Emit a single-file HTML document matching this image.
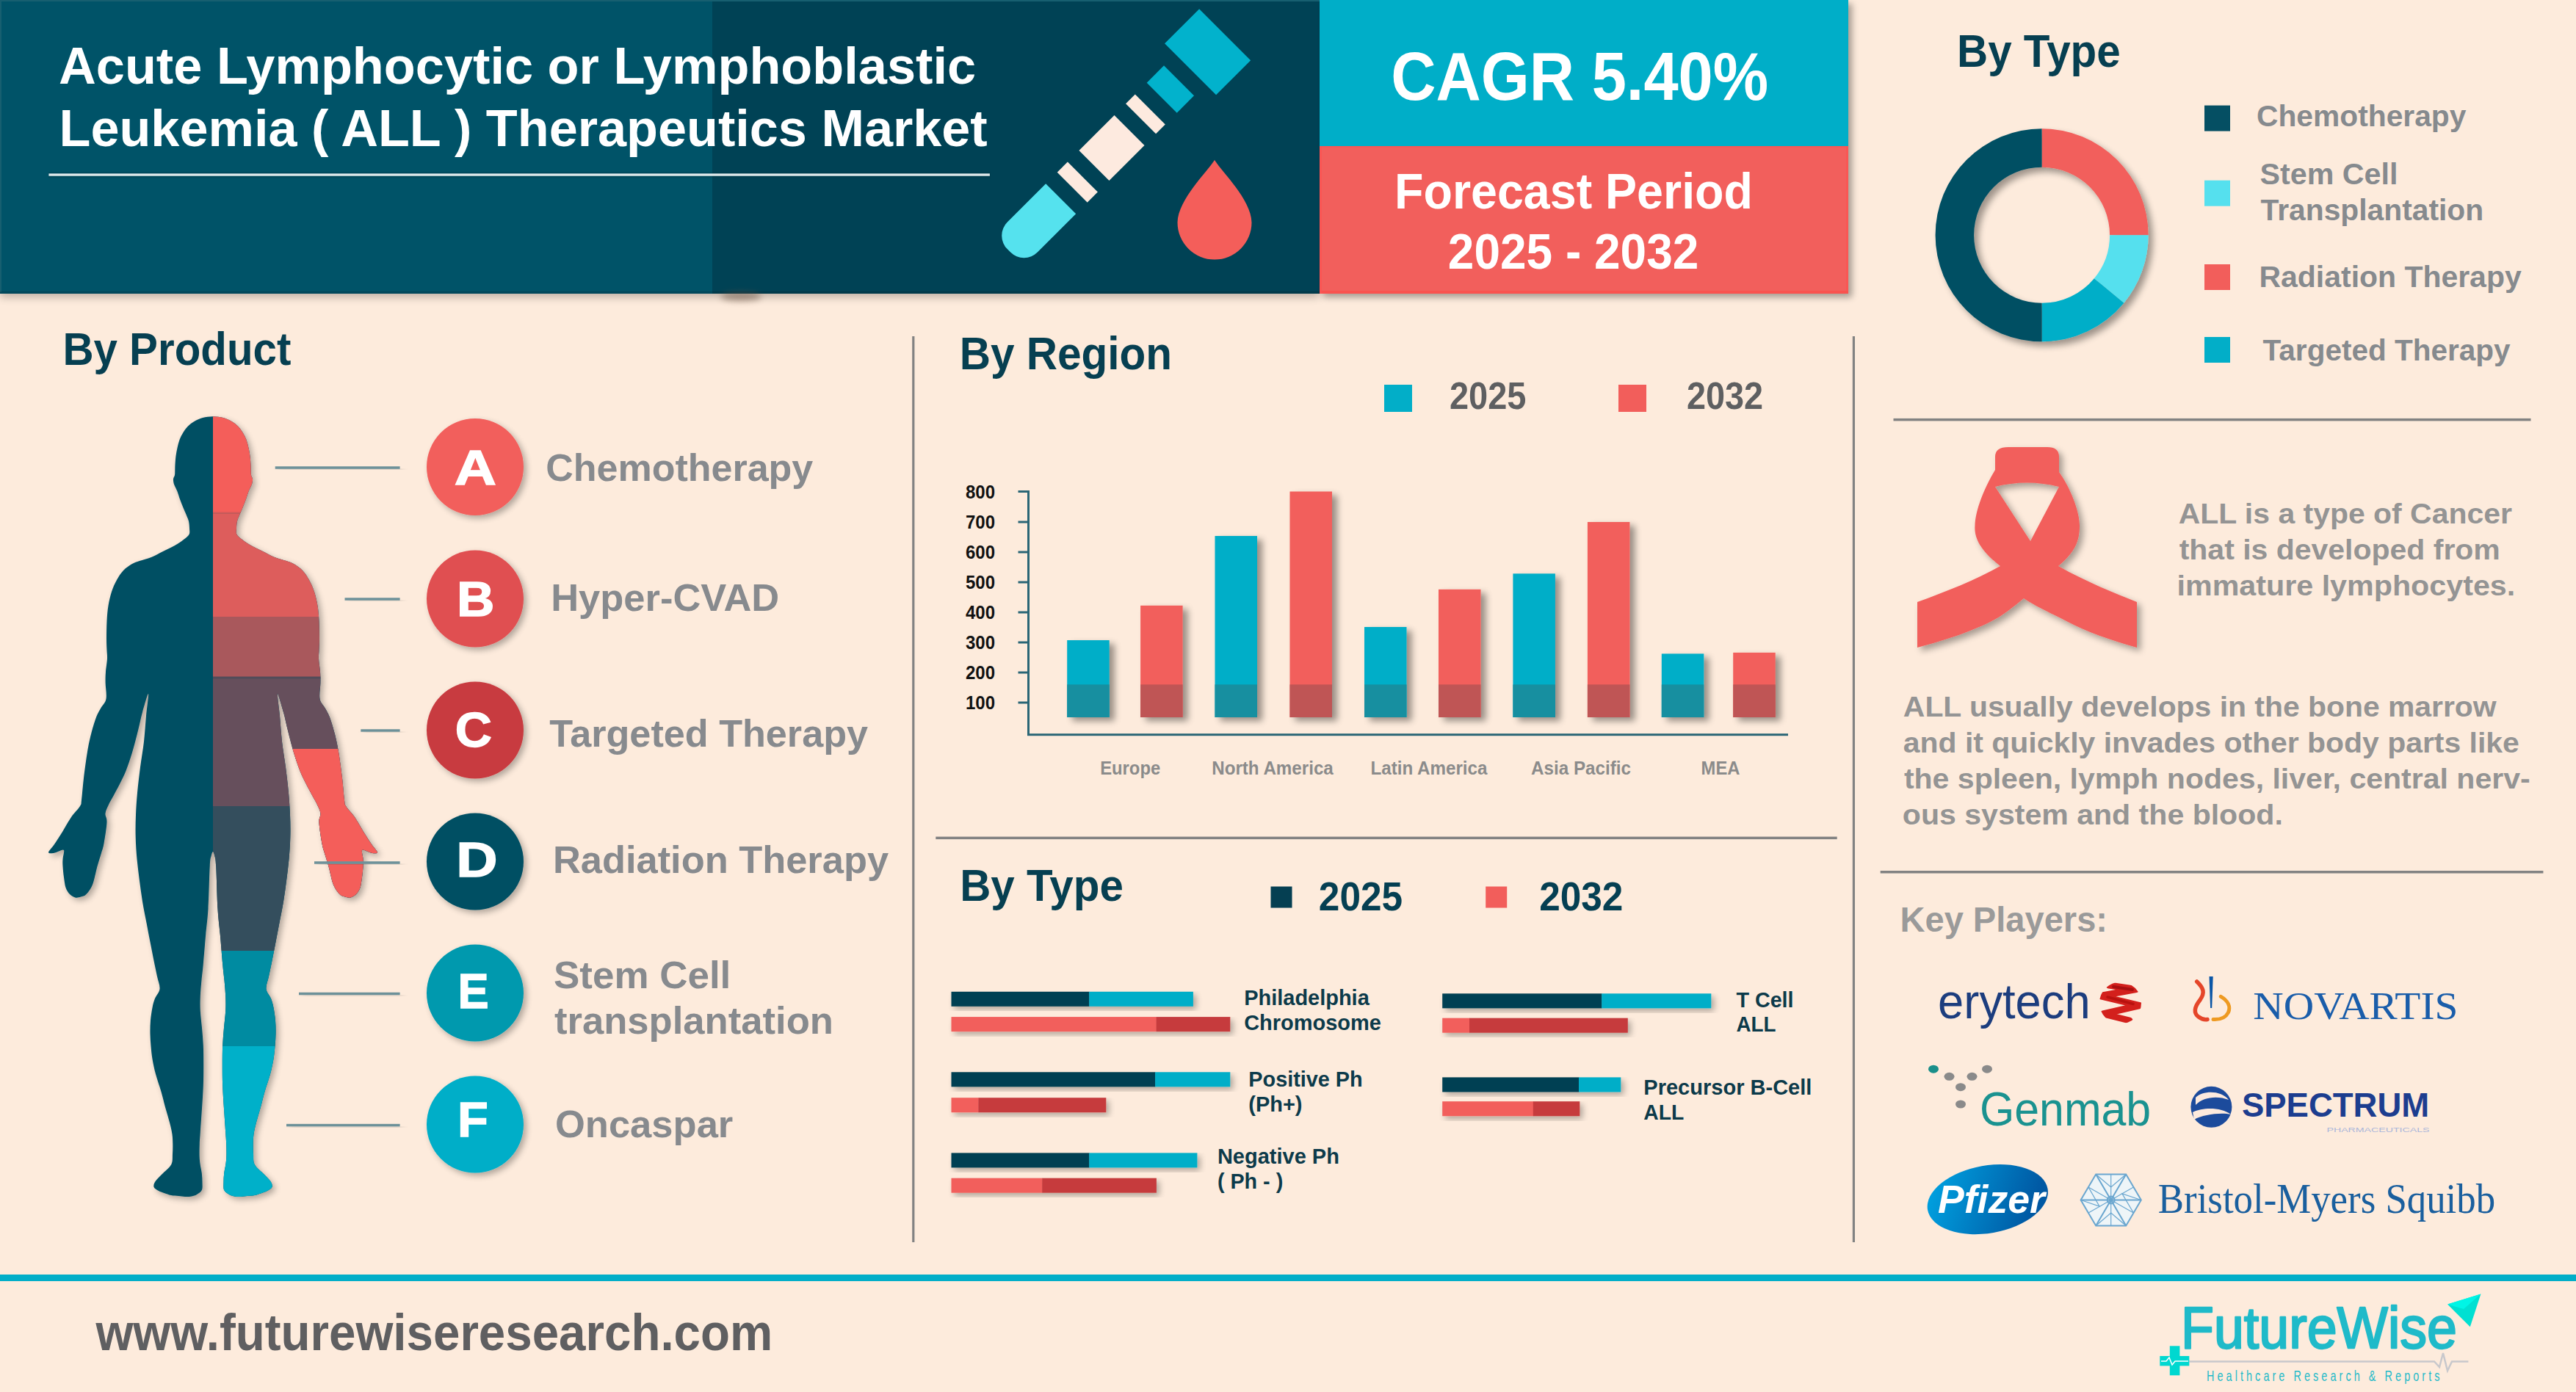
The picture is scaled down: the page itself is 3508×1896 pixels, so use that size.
<!DOCTYPE html>
<html><head><meta charset="utf-8"><title>ALL Therapeutics Market</title>
<style>html,body{margin:0;padding:0;background:#fdebdc;} svg{display:block;} text{font-family:'Liberation Sans',sans-serif;}</style>
</head><body>
<svg width="3508" height="1896" viewBox="0 0 3508 1896" style="font-family:'Liberation Sans',sans-serif">
<defs>
<filter id="sh" x="-20%" y="-20%" width="150%" height="150%"><feGaussianBlur in="SourceAlpha" stdDeviation="5"/><feOffset dx="5" dy="5"/><feComponentTransfer><feFuncA type="linear" slope="0.35"/></feComponentTransfer><feMerge><feMergeNode/><feMergeNode in="SourceGraphic"/></feMerge></filter>
<filter id="sh2" x="-20%" y="-20%" width="150%" height="150%"><feGaussianBlur in="SourceAlpha" stdDeviation="4"/><feOffset dx="4" dy="4"/><feComponentTransfer><feFuncA type="linear" slope="0.3"/></feComponentTransfer><feMerge><feMergeNode/><feMergeNode in="SourceGraphic"/></feMerge></filter>
<filter id="shH" x="-5%" y="-20%" width="110%" height="150%"><feGaussianBlur in="SourceAlpha" stdDeviation="6"/><feOffset dx="0" dy="5"/><feComponentTransfer><feFuncA type="linear" slope="0.25"/></feComponentTransfer><feMerge><feMergeNode/><feMergeNode in="SourceGraphic"/></feMerge></filter>
<filter id="shB" x="-30%" y="-10%" width="170%" height="130%"><feGaussianBlur in="SourceAlpha" stdDeviation="5"/><feOffset dx="7" dy="5"/><feComponentTransfer><feFuncA type="linear" slope="0.4"/></feComponentTransfer><feMerge><feMergeNode/><feMergeNode in="SourceGraphic"/></feMerge></filter>
<filter id="shD" x="-20%" y="-20%" width="150%" height="150%"><feGaussianBlur in="SourceAlpha" stdDeviation="5"/><feOffset dx="6" dy="6"/><feComponentTransfer><feFuncA type="linear" slope="0.38"/></feComponentTransfer><feMerge><feMergeNode/><feMergeNode in="SourceGraphic"/></feMerge></filter>
<clipPath id="ery"><circle cx="2887.5" cy="1366" r="28.5"/></clipPath>
<clipPath id="bodyclip"><path d="M290.0,567.2C285.3,567.2 280.2,567.9 276.0,569.0C271.8,570.1 267.8,572.1 264.5,574.0C261.2,575.9 258.5,578.0 256.0,580.5C253.5,583.0 251.4,585.9 249.5,589.0C247.6,592.1 245.8,595.5 244.5,599.0C243.2,602.5 242.3,606.3 241.5,610.0C240.7,613.7 240.0,617.2 239.5,621.0C239.0,624.8 238.7,629.7 238.5,633.0C238.3,636.3 238.4,638.7 238.3,641.0C238.2,643.3 238.4,645.1 238.0,647.0C237.6,648.9 236.2,650.5 236.0,652.5C235.8,654.5 236.3,657.1 236.8,659.0C237.3,660.9 238.2,662.2 239.0,664.0C239.8,665.8 240.5,666.8 241.5,669.5C242.5,672.2 243.7,676.3 245.0,680.0C246.3,683.7 248.0,687.8 249.5,691.5C251.0,695.2 252.8,698.9 254.0,702.0C255.2,705.1 256.3,707.0 257.0,710.0C257.7,713.0 257.9,717.0 258.0,720.0C258.1,723.0 258.8,725.5 257.5,728.0C256.2,730.5 253.2,732.5 250.0,735.0C246.8,737.5 242.7,740.3 238.0,743.0C233.3,745.7 227.3,748.3 222.0,751.0C216.7,753.7 211.3,756.8 206.0,759.0C200.7,761.2 194.3,762.5 190.0,764.0C185.7,765.5 183.7,765.8 180.0,768.0C176.3,770.2 171.5,773.3 168.0,777.0C164.5,780.7 161.7,785.2 159.0,790.0C156.3,794.8 153.9,800.2 152.0,806.0C150.1,811.8 148.6,818.3 147.5,825.0C146.4,831.7 145.9,838.5 145.5,846.0C145.1,853.5 145.0,863.3 145.0,870.0C145.0,876.7 145.3,881.5 145.5,886.0C145.7,890.5 146.2,892.2 146.0,897.0C145.8,901.8 144.4,909.5 144.0,915.0C143.6,920.5 143.5,923.8 143.6,930.0C143.7,936.2 145.6,946.2 144.5,952.0C143.4,957.8 139.2,960.8 137.0,965.0C134.8,969.2 133.2,971.2 131.0,977.0C128.8,982.8 126.0,992.2 124.0,1000.0C122.0,1007.8 120.7,1014.0 119.0,1024.0C117.3,1034.0 115.3,1049.0 114.0,1060.0C112.7,1071.0 111.8,1083.7 111.0,1090.0C110.2,1096.3 111.3,1094.2 109.0,1098.0C106.7,1101.8 101.0,1107.2 97.0,1113.0C93.0,1118.8 88.8,1126.8 85.0,1133.0C81.2,1139.2 77.2,1145.3 74.0,1150.0C70.8,1154.7 66.2,1159.0 66.0,1161.0C65.8,1163.0 70.7,1162.2 73.0,1162.0C75.3,1161.8 77.7,1160.2 80.0,1159.5C82.3,1158.8 86.1,1156.2 87.0,1158.0C87.9,1159.8 85.8,1166.3 85.5,1170.0C85.2,1173.7 85.2,1175.8 85.5,1180.0C85.8,1184.2 86.3,1190.2 87.0,1195.0C87.7,1199.8 88.2,1205.2 89.5,1209.0C90.8,1212.8 92.8,1215.8 95.0,1218.0C97.2,1220.2 100.0,1221.9 102.5,1222.5C105.0,1223.1 107.5,1222.2 110.0,1221.5C112.5,1220.8 114.8,1220.8 117.5,1218.0C120.2,1215.2 123.5,1211.3 126.0,1205.0C128.5,1198.7 130.5,1187.2 132.5,1180.0C134.5,1172.8 136.5,1167.2 138.0,1162.0C139.5,1156.8 140.2,1156.0 141.5,1149.0C142.8,1142.0 145.2,1126.8 145.5,1120.0C145.8,1113.2 143.1,1112.0 143.5,1108.0C143.9,1104.0 146.2,1100.0 148.0,1096.0C149.8,1092.0 152.0,1088.7 154.5,1084.0C157.0,1079.3 160.2,1073.7 163.0,1068.0C165.8,1062.3 168.7,1057.2 171.5,1050.0C174.3,1042.8 177.2,1034.2 180.0,1025.0C182.8,1015.8 185.7,1004.2 188.0,995.0C190.3,985.8 191.7,978.3 194.0,970.0C196.3,961.7 201.2,944.2 202.0,945.0C202.8,945.8 200.0,964.2 199.0,975.0C198.0,985.8 197.3,998.3 196.0,1010.0C194.7,1021.7 192.5,1033.3 191.0,1045.0C189.5,1056.7 188.0,1069.2 187.0,1080.0C186.0,1090.8 185.4,1100.0 185.0,1110.0C184.6,1120.0 184.4,1130.0 184.7,1140.0C184.9,1150.0 185.6,1160.2 186.5,1170.0C187.4,1179.8 188.7,1189.3 189.9,1199.0C191.2,1208.7 192.4,1218.2 194.0,1228.0C195.6,1237.8 197.9,1248.8 199.7,1258.0C201.4,1267.2 202.8,1274.5 204.5,1283.0C206.2,1291.5 208.0,1301.2 209.6,1309.0C211.2,1316.8 212.7,1323.7 214.0,1330.0C215.3,1336.3 218.0,1342.0 217.5,1347.0C217.0,1352.0 212.7,1355.8 211.0,1360.0C209.3,1364.2 208.6,1367.0 207.6,1372.0C206.6,1377.0 205.5,1384.0 205.0,1390.0C204.5,1396.0 204.4,1402.2 204.5,1408.0C204.6,1413.8 205.0,1419.2 205.5,1425.0C206.0,1430.8 206.5,1436.7 207.6,1443.0C208.7,1449.3 210.0,1455.7 212.0,1463.0C214.0,1470.3 217.3,1479.5 219.5,1487.0C221.7,1494.5 223.0,1500.8 225.0,1508.0C227.0,1515.2 229.7,1523.8 231.3,1530.0C232.9,1536.2 233.8,1540.3 234.5,1545.0C235.2,1549.7 235.2,1553.5 235.3,1558.0C235.4,1562.5 235.3,1567.3 235.0,1572.0C234.7,1576.7 235.5,1581.7 233.3,1586.0C231.1,1590.3 225.6,1594.2 222.0,1598.0C218.4,1601.8 213.7,1605.8 211.6,1609.0C209.5,1612.2 208.9,1614.8 209.6,1617.0C210.3,1619.2 213.7,1620.7 216.0,1622.0C218.3,1623.3 220.6,1624.0 223.4,1625.0C226.2,1626.0 229.7,1627.3 233.0,1628.0C236.3,1628.7 240.0,1628.7 243.2,1629.0C246.4,1629.3 249.0,1629.9 252.0,1630.0C255.0,1630.1 258.3,1630.0 261.0,1629.5C263.7,1629.0 265.7,1628.4 268.0,1627.0C270.3,1625.6 273.6,1623.8 274.8,1621.0C276.1,1618.2 275.5,1613.8 275.5,1610.0C275.5,1606.2 275.3,1602.2 274.8,1598.0C274.3,1593.8 273.0,1589.0 272.5,1585.0C272.0,1581.0 271.7,1578.5 271.6,1574.0C271.5,1569.5 271.6,1563.3 271.8,1558.0C272.0,1552.7 272.3,1550.0 272.8,1542.0C273.3,1534.0 274.3,1520.5 275.0,1510.0C275.7,1499.5 276.4,1489.0 276.8,1479.0C277.2,1469.0 277.2,1459.2 277.2,1450.0C277.2,1440.8 277.2,1432.3 276.8,1424.0C276.4,1415.7 275.7,1407.8 275.0,1400.0C274.3,1392.2 273.2,1384.2 272.8,1377.0C272.4,1369.8 272.5,1364.0 272.8,1357.0C273.1,1350.0 273.8,1342.3 274.5,1335.0C275.2,1327.7 275.9,1323.0 276.8,1313.0C277.7,1303.0 278.9,1287.5 280.0,1275.0C281.1,1262.5 282.5,1254.0 283.5,1238.0C284.5,1222.0 285.1,1191.0 285.8,1179.0C286.5,1167.0 286.9,1169.2 287.6,1166.0C288.3,1162.8 289.2,1160.0 290.0,1160.0C290.8,1160.0 291.7,1162.8 292.4,1166.0C293.1,1169.2 293.5,1167.0 294.2,1179.0C294.9,1191.0 295.5,1222.0 296.5,1238.0C297.5,1254.0 298.9,1262.5 300.0,1275.0C301.1,1287.5 302.3,1303.0 303.2,1313.0C304.1,1323.0 304.8,1327.7 305.5,1335.0C306.2,1342.3 306.9,1350.0 307.2,1357.0C307.5,1364.0 307.6,1369.8 307.2,1377.0C306.8,1384.2 305.7,1392.2 305.0,1400.0C304.3,1407.8 303.6,1415.7 303.2,1424.0C302.8,1432.3 302.8,1440.8 302.8,1450.0C302.8,1459.2 302.8,1469.0 303.2,1479.0C303.6,1489.0 304.3,1499.5 305.0,1510.0C305.7,1520.5 306.7,1534.0 307.2,1542.0C307.7,1550.0 308.0,1552.7 308.2,1558.0C308.4,1563.3 308.5,1569.5 308.4,1574.0C308.3,1578.5 308.0,1581.0 307.5,1585.0C307.0,1589.0 305.7,1593.8 305.2,1598.0C304.7,1602.2 304.5,1606.2 304.5,1610.0C304.5,1613.8 303.9,1618.2 305.2,1621.0C306.4,1623.8 309.7,1625.6 312.0,1627.0C314.3,1628.4 316.3,1629.0 319.0,1629.5C321.7,1630.0 325.0,1630.1 328.0,1630.0C331.0,1629.9 333.6,1629.3 336.8,1629.0C340.0,1628.7 343.7,1628.7 347.0,1628.0C350.3,1627.3 353.8,1626.0 356.6,1625.0C359.4,1624.0 361.7,1623.3 364.0,1622.0C366.3,1620.7 369.7,1619.2 370.4,1617.0C371.1,1614.8 370.5,1612.2 368.4,1609.0C366.3,1605.8 361.6,1601.8 358.0,1598.0C354.4,1594.2 348.9,1590.3 346.7,1586.0C344.5,1581.7 345.3,1576.7 345.0,1572.0C344.7,1567.3 344.6,1562.5 344.7,1558.0C344.8,1553.5 344.8,1549.7 345.5,1545.0C346.2,1540.3 347.1,1536.2 348.7,1530.0C350.3,1523.8 353.0,1515.2 355.0,1508.0C357.0,1500.8 358.3,1494.5 360.5,1487.0C362.7,1479.5 366.0,1470.3 368.0,1463.0C370.0,1455.7 371.3,1449.3 372.4,1443.0C373.5,1436.7 374.0,1430.8 374.5,1425.0C375.0,1419.2 375.4,1413.8 375.5,1408.0C375.6,1402.2 375.5,1396.0 375.0,1390.0C374.5,1384.0 373.4,1377.0 372.4,1372.0C371.4,1367.0 370.6,1364.2 369.0,1360.0C367.4,1355.8 363.0,1352.0 362.5,1347.0C362.0,1342.0 364.7,1336.3 366.0,1330.0C367.3,1323.7 368.8,1316.8 370.4,1309.0C372.0,1301.2 373.9,1291.5 375.5,1283.0C377.1,1274.5 378.6,1267.2 380.3,1258.0C382.1,1248.8 384.4,1237.8 386.0,1228.0C387.6,1218.2 388.9,1208.7 390.1,1199.0C391.4,1189.3 392.6,1179.8 393.5,1170.0C394.4,1160.2 395.1,1150.0 395.3,1140.0C395.6,1130.0 395.4,1120.0 395.0,1110.0C394.6,1100.0 394.0,1090.8 393.0,1080.0C392.0,1069.2 390.5,1056.7 389.0,1045.0C387.5,1033.3 385.3,1021.7 384.0,1010.0C382.7,998.3 382.0,985.8 381.0,975.0C380.0,964.2 377.2,945.8 378.0,945.0C378.8,944.2 383.7,961.7 386.0,970.0C388.3,978.3 389.7,985.8 392.0,995.0C394.3,1004.2 397.2,1015.8 400.0,1025.0C402.8,1034.2 405.7,1042.8 408.5,1050.0C411.3,1057.2 414.2,1062.3 417.0,1068.0C419.8,1073.7 423.0,1079.3 425.5,1084.0C428.0,1088.7 430.2,1092.0 432.0,1096.0C433.8,1100.0 436.1,1104.0 436.5,1108.0C436.9,1112.0 434.2,1113.2 434.5,1120.0C434.8,1126.8 437.2,1142.0 438.5,1149.0C439.8,1156.0 440.5,1156.8 442.0,1162.0C443.5,1167.2 445.5,1172.8 447.5,1180.0C449.5,1187.2 451.5,1198.7 454.0,1205.0C456.5,1211.3 459.8,1215.2 462.5,1218.0C465.2,1220.8 467.5,1220.8 470.0,1221.5C472.5,1222.2 475.0,1223.1 477.5,1222.5C480.0,1221.9 482.8,1220.2 485.0,1218.0C487.2,1215.8 489.2,1212.8 490.5,1209.0C491.8,1205.2 492.3,1199.8 493.0,1195.0C493.7,1190.2 494.2,1184.2 494.5,1180.0C494.8,1175.8 494.8,1173.7 494.5,1170.0C494.2,1166.3 492.1,1159.8 493.0,1158.0C493.9,1156.2 497.7,1158.8 500.0,1159.5C502.3,1160.2 504.7,1161.8 507.0,1162.0C509.3,1162.2 514.2,1163.0 514.0,1161.0C513.8,1159.0 509.2,1154.7 506.0,1150.0C502.8,1145.3 498.8,1139.2 495.0,1133.0C491.2,1126.8 487.0,1118.8 483.0,1113.0C479.0,1107.2 473.3,1101.8 471.0,1098.0C468.7,1094.2 469.8,1096.3 469.0,1090.0C468.2,1083.7 467.3,1071.0 466.0,1060.0C464.7,1049.0 462.7,1034.0 461.0,1024.0C459.3,1014.0 458.0,1007.8 456.0,1000.0C454.0,992.2 451.2,982.8 449.0,977.0C446.8,971.2 445.2,969.2 443.0,965.0C440.8,960.8 436.6,957.8 435.5,952.0C434.4,946.2 436.3,936.2 436.4,930.0C436.5,923.8 436.4,920.5 436.0,915.0C435.6,909.5 434.2,901.8 434.0,897.0C433.8,892.2 434.3,890.5 434.5,886.0C434.7,881.5 435.0,876.7 435.0,870.0C435.0,863.3 434.9,853.5 434.5,846.0C434.1,838.5 433.6,831.7 432.5,825.0C431.4,818.3 429.9,811.8 428.0,806.0C426.1,800.2 423.7,794.8 421.0,790.0C418.3,785.2 415.5,780.7 412.0,777.0C408.5,773.3 403.7,770.2 400.0,768.0C396.3,765.8 394.3,765.5 390.0,764.0C385.7,762.5 379.3,761.2 374.0,759.0C368.7,756.8 363.3,753.7 358.0,751.0C352.7,748.3 346.7,745.7 342.0,743.0C337.3,740.3 333.2,737.5 330.0,735.0C326.8,732.5 323.8,730.5 322.5,728.0C321.2,725.5 321.9,723.0 322.0,720.0C322.1,717.0 322.3,713.0 323.0,710.0C323.7,707.0 324.8,705.1 326.0,702.0C327.2,698.9 329.0,695.2 330.5,691.5C332.0,687.8 333.7,683.7 335.0,680.0C336.3,676.3 337.5,672.2 338.5,669.5C339.5,666.8 340.2,665.8 341.0,664.0C341.8,662.2 342.7,660.9 343.2,659.0C343.7,657.1 344.2,654.5 344.0,652.5C343.8,650.5 342.4,648.9 342.0,647.0C341.6,645.1 341.8,643.3 341.7,641.0C341.6,638.7 341.7,636.3 341.5,633.0C341.3,629.7 341.0,624.8 340.5,621.0C340.0,617.2 339.3,613.7 338.5,610.0C337.7,606.3 336.8,602.5 335.5,599.0C334.2,595.5 332.4,592.1 330.5,589.0C328.6,585.9 326.5,583.0 324.0,580.5C321.5,578.0 318.8,575.9 315.5,574.0C312.2,572.1 308.2,570.1 304.0,569.0C299.8,567.9 294.7,567.2 290.0,567.2Z"/></clipPath>
</defs>
<rect x="0" y="0" width="3508" height="1896" fill="#fdebdc"/>
<g filter="url(#shH)"><rect x="0" y="0" width="1797" height="400" fill="#034354"/><rect x="0" y="0" width="970" height="400" fill="#065367"/></g>
<rect x="0" y="0" width="1797" height="2" fill="#175f70"/><rect x="0" y="0" width="2" height="398" fill="#175f70"/>
<ellipse cx="1009" cy="404" rx="28" ry="6" fill="#6b5446" opacity="0.55" style="filter:blur(4px)"/>
<rect x="0" y="396.5" width="1797" height="3.5" fill="#000000" opacity="0.12"/>
<text x="80.02" y="114" font-size="71" fill="#ffffff" font-weight="bold" textLength="1249.09" lengthAdjust="spacingAndGlyphs" >Acute Lymphocytic or Lymphoblastic</text>
<text x="80.56" y="199" font-size="71" fill="#ffffff" font-weight="bold" textLength="1264.20" lengthAdjust="spacingAndGlyphs" >Leukemia ( ALL ) Therapeutics Market</text>
<rect x="66" y="234.3" width="1283" height="8" fill="#003646" opacity="0.3"/>
<rect x="66.4" y="236.4" width="1281.5" height="3.3" fill="#e2ebed"/>
<g transform="translate(1378.2,337.2) rotate(-45)">
<path d="M20,-29 L94,-29 L94,29 L20,29 A26,26 0 0 1 -6,3 L-6,-3 A26,26 0 0 1 20,-29 Z" fill="#55e2ee"/>
<rect x="116" y="-29" width="20" height="58" fill="#fdeadf"/>
<rect x="158" y="-29" width="68" height="58" fill="#fdeadf"/>
<rect x="248" y="-29" width="18" height="58" fill="#fdeadf"/>
<rect x="288.5" y="-29" width="33" height="58" fill="#02b2cc"/>
<rect x="343.5" y="-49.5" width="66.5" height="99" fill="#02b2cc"/>
</g>
<path d="M1654,218 C1664,234 1704,272 1704.5,303 A50.5,50.5 0 1 1 1603.5,303 C1604,272 1644,234 1654,218 Z" fill="#f45e5a"/>
<g filter="url(#sh)"><rect x="1797" y="0" width="720" height="199" fill="#02aec8"/><rect x="1797" y="199" width="720" height="201" fill="#f25e5b"/></g>
<rect x="1797" y="199" width="720" height="2" fill="#fb5654"/><rect x="2514" y="199" width="3" height="201" fill="#fa5654"/><rect x="1797" y="396" width="720" height="4" fill="#f9534f"/><rect x="1797" y="199" width="3" height="201" fill="#fa5654"/>
<text x="1894.35" y="135.7" font-size="93" fill="#ffffff" font-weight="bold" textLength="513.80" lengthAdjust="spacingAndGlyphs" >CAGR 5.40%</text>
<text x="1899.12" y="283.5" font-size="69" fill="#ffffff" font-weight="bold" textLength="487.80" lengthAdjust="spacingAndGlyphs" >Forecast Period</text>
<text x="1971.85" y="365.5" font-size="69" fill="#ffffff" font-weight="bold" textLength="341.51" lengthAdjust="spacingAndGlyphs" >2025 - 2032</text>
<text x="2664.99" y="90.6" font-size="63" fill="#063f51" font-weight="bold" textLength="222.74" lengthAdjust="spacingAndGlyphs" >By Type</text>
<g filter="url(#shD)">
<path d="M2780.60,175.20 A145,145 0 0 1 2925.60,320.20 L2873.10,320.20 A92.5,92.5 0 0 0 2780.60,227.70 Z" fill="#f25e5b"/>
<path d="M2925.60,320.20 A145,145 0 0 1 2892.32,412.63 L2851.87,379.16 A92.5,92.5 0 0 0 2873.10,320.20 Z" fill="#55e0ee"/>
<path d="M2892.32,412.63 A145,145 0 0 1 2780.60,465.20 L2780.60,412.70 A92.5,92.5 0 0 0 2851.87,379.16 Z" fill="#02aec8"/>
<path d="M2780.60,465.20 A145,145 0 0 1 2780.57,175.20 L2780.58,227.70 A92.5,92.5 0 0 0 2780.60,412.70 Z" fill="#054f63"/>
</g>
<rect x="3002" y="143.6" width="35" height="35" fill="#054f63"/>
<rect x="3002" y="245.7" width="35" height="35" fill="#55e0ee"/>
<rect x="3002" y="360" width="35" height="35" fill="#f25e5b"/>
<rect x="3002" y="459" width="35" height="35" fill="#02aec8"/>
<text x="3073.01" y="172.4" font-size="41" fill="#868a8e" font-weight="bold" textLength="285.45" lengthAdjust="spacingAndGlyphs" >Chemotherapy</text>
<text x="3077.59" y="251.3" font-size="41" fill="#868a8e" font-weight="bold" textLength="187.86" lengthAdjust="spacingAndGlyphs" >Stem Cell</text>
<text x="3078.60" y="300.4" font-size="41" fill="#868a8e" font-weight="bold" textLength="303.55" lengthAdjust="spacingAndGlyphs" >Transplantation</text>
<text x="3076.50" y="391.4" font-size="41" fill="#868a8e" font-weight="bold" textLength="357.17" lengthAdjust="spacingAndGlyphs" >Radiation Therapy</text>
<text x="3081.60" y="490.6" font-size="41" fill="#868a8e" font-weight="bold" textLength="337.00" lengthAdjust="spacingAndGlyphs" >Targeted Therapy</text>
<rect x="2578.5" y="569.9" width="868" height="3.5" fill="#828282"/>
<text x="85.40" y="496.8" font-size="63" fill="#063f51" font-weight="bold" textLength="310.97" lengthAdjust="spacingAndGlyphs" >By Product</text>
<g filter="url(#sh2)"><path d="M290.0,567.2C285.3,567.2 280.2,567.9 276.0,569.0C271.8,570.1 267.8,572.1 264.5,574.0C261.2,575.9 258.5,578.0 256.0,580.5C253.5,583.0 251.4,585.9 249.5,589.0C247.6,592.1 245.8,595.5 244.5,599.0C243.2,602.5 242.3,606.3 241.5,610.0C240.7,613.7 240.0,617.2 239.5,621.0C239.0,624.8 238.7,629.7 238.5,633.0C238.3,636.3 238.4,638.7 238.3,641.0C238.2,643.3 238.4,645.1 238.0,647.0C237.6,648.9 236.2,650.5 236.0,652.5C235.8,654.5 236.3,657.1 236.8,659.0C237.3,660.9 238.2,662.2 239.0,664.0C239.8,665.8 240.5,666.8 241.5,669.5C242.5,672.2 243.7,676.3 245.0,680.0C246.3,683.7 248.0,687.8 249.5,691.5C251.0,695.2 252.8,698.9 254.0,702.0C255.2,705.1 256.3,707.0 257.0,710.0C257.7,713.0 257.9,717.0 258.0,720.0C258.1,723.0 258.8,725.5 257.5,728.0C256.2,730.5 253.2,732.5 250.0,735.0C246.8,737.5 242.7,740.3 238.0,743.0C233.3,745.7 227.3,748.3 222.0,751.0C216.7,753.7 211.3,756.8 206.0,759.0C200.7,761.2 194.3,762.5 190.0,764.0C185.7,765.5 183.7,765.8 180.0,768.0C176.3,770.2 171.5,773.3 168.0,777.0C164.5,780.7 161.7,785.2 159.0,790.0C156.3,794.8 153.9,800.2 152.0,806.0C150.1,811.8 148.6,818.3 147.5,825.0C146.4,831.7 145.9,838.5 145.5,846.0C145.1,853.5 145.0,863.3 145.0,870.0C145.0,876.7 145.3,881.5 145.5,886.0C145.7,890.5 146.2,892.2 146.0,897.0C145.8,901.8 144.4,909.5 144.0,915.0C143.6,920.5 143.5,923.8 143.6,930.0C143.7,936.2 145.6,946.2 144.5,952.0C143.4,957.8 139.2,960.8 137.0,965.0C134.8,969.2 133.2,971.2 131.0,977.0C128.8,982.8 126.0,992.2 124.0,1000.0C122.0,1007.8 120.7,1014.0 119.0,1024.0C117.3,1034.0 115.3,1049.0 114.0,1060.0C112.7,1071.0 111.8,1083.7 111.0,1090.0C110.2,1096.3 111.3,1094.2 109.0,1098.0C106.7,1101.8 101.0,1107.2 97.0,1113.0C93.0,1118.8 88.8,1126.8 85.0,1133.0C81.2,1139.2 77.2,1145.3 74.0,1150.0C70.8,1154.7 66.2,1159.0 66.0,1161.0C65.8,1163.0 70.7,1162.2 73.0,1162.0C75.3,1161.8 77.7,1160.2 80.0,1159.5C82.3,1158.8 86.1,1156.2 87.0,1158.0C87.9,1159.8 85.8,1166.3 85.5,1170.0C85.2,1173.7 85.2,1175.8 85.5,1180.0C85.8,1184.2 86.3,1190.2 87.0,1195.0C87.7,1199.8 88.2,1205.2 89.5,1209.0C90.8,1212.8 92.8,1215.8 95.0,1218.0C97.2,1220.2 100.0,1221.9 102.5,1222.5C105.0,1223.1 107.5,1222.2 110.0,1221.5C112.5,1220.8 114.8,1220.8 117.5,1218.0C120.2,1215.2 123.5,1211.3 126.0,1205.0C128.5,1198.7 130.5,1187.2 132.5,1180.0C134.5,1172.8 136.5,1167.2 138.0,1162.0C139.5,1156.8 140.2,1156.0 141.5,1149.0C142.8,1142.0 145.2,1126.8 145.5,1120.0C145.8,1113.2 143.1,1112.0 143.5,1108.0C143.9,1104.0 146.2,1100.0 148.0,1096.0C149.8,1092.0 152.0,1088.7 154.5,1084.0C157.0,1079.3 160.2,1073.7 163.0,1068.0C165.8,1062.3 168.7,1057.2 171.5,1050.0C174.3,1042.8 177.2,1034.2 180.0,1025.0C182.8,1015.8 185.7,1004.2 188.0,995.0C190.3,985.8 191.7,978.3 194.0,970.0C196.3,961.7 201.2,944.2 202.0,945.0C202.8,945.8 200.0,964.2 199.0,975.0C198.0,985.8 197.3,998.3 196.0,1010.0C194.7,1021.7 192.5,1033.3 191.0,1045.0C189.5,1056.7 188.0,1069.2 187.0,1080.0C186.0,1090.8 185.4,1100.0 185.0,1110.0C184.6,1120.0 184.4,1130.0 184.7,1140.0C184.9,1150.0 185.6,1160.2 186.5,1170.0C187.4,1179.8 188.7,1189.3 189.9,1199.0C191.2,1208.7 192.4,1218.2 194.0,1228.0C195.6,1237.8 197.9,1248.8 199.7,1258.0C201.4,1267.2 202.8,1274.5 204.5,1283.0C206.2,1291.5 208.0,1301.2 209.6,1309.0C211.2,1316.8 212.7,1323.7 214.0,1330.0C215.3,1336.3 218.0,1342.0 217.5,1347.0C217.0,1352.0 212.7,1355.8 211.0,1360.0C209.3,1364.2 208.6,1367.0 207.6,1372.0C206.6,1377.0 205.5,1384.0 205.0,1390.0C204.5,1396.0 204.4,1402.2 204.5,1408.0C204.6,1413.8 205.0,1419.2 205.5,1425.0C206.0,1430.8 206.5,1436.7 207.6,1443.0C208.7,1449.3 210.0,1455.7 212.0,1463.0C214.0,1470.3 217.3,1479.5 219.5,1487.0C221.7,1494.5 223.0,1500.8 225.0,1508.0C227.0,1515.2 229.7,1523.8 231.3,1530.0C232.9,1536.2 233.8,1540.3 234.5,1545.0C235.2,1549.7 235.2,1553.5 235.3,1558.0C235.4,1562.5 235.3,1567.3 235.0,1572.0C234.7,1576.7 235.5,1581.7 233.3,1586.0C231.1,1590.3 225.6,1594.2 222.0,1598.0C218.4,1601.8 213.7,1605.8 211.6,1609.0C209.5,1612.2 208.9,1614.8 209.6,1617.0C210.3,1619.2 213.7,1620.7 216.0,1622.0C218.3,1623.3 220.6,1624.0 223.4,1625.0C226.2,1626.0 229.7,1627.3 233.0,1628.0C236.3,1628.7 240.0,1628.7 243.2,1629.0C246.4,1629.3 249.0,1629.9 252.0,1630.0C255.0,1630.1 258.3,1630.0 261.0,1629.5C263.7,1629.0 265.7,1628.4 268.0,1627.0C270.3,1625.6 273.6,1623.8 274.8,1621.0C276.1,1618.2 275.5,1613.8 275.5,1610.0C275.5,1606.2 275.3,1602.2 274.8,1598.0C274.3,1593.8 273.0,1589.0 272.5,1585.0C272.0,1581.0 271.7,1578.5 271.6,1574.0C271.5,1569.5 271.6,1563.3 271.8,1558.0C272.0,1552.7 272.3,1550.0 272.8,1542.0C273.3,1534.0 274.3,1520.5 275.0,1510.0C275.7,1499.5 276.4,1489.0 276.8,1479.0C277.2,1469.0 277.2,1459.2 277.2,1450.0C277.2,1440.8 277.2,1432.3 276.8,1424.0C276.4,1415.7 275.7,1407.8 275.0,1400.0C274.3,1392.2 273.2,1384.2 272.8,1377.0C272.4,1369.8 272.5,1364.0 272.8,1357.0C273.1,1350.0 273.8,1342.3 274.5,1335.0C275.2,1327.7 275.9,1323.0 276.8,1313.0C277.7,1303.0 278.9,1287.5 280.0,1275.0C281.1,1262.5 282.5,1254.0 283.5,1238.0C284.5,1222.0 285.1,1191.0 285.8,1179.0C286.5,1167.0 286.9,1169.2 287.6,1166.0C288.3,1162.8 289.2,1160.0 290.0,1160.0C290.8,1160.0 291.7,1162.8 292.4,1166.0C293.1,1169.2 293.5,1167.0 294.2,1179.0C294.9,1191.0 295.5,1222.0 296.5,1238.0C297.5,1254.0 298.9,1262.5 300.0,1275.0C301.1,1287.5 302.3,1303.0 303.2,1313.0C304.1,1323.0 304.8,1327.7 305.5,1335.0C306.2,1342.3 306.9,1350.0 307.2,1357.0C307.5,1364.0 307.6,1369.8 307.2,1377.0C306.8,1384.2 305.7,1392.2 305.0,1400.0C304.3,1407.8 303.6,1415.7 303.2,1424.0C302.8,1432.3 302.8,1440.8 302.8,1450.0C302.8,1459.2 302.8,1469.0 303.2,1479.0C303.6,1489.0 304.3,1499.5 305.0,1510.0C305.7,1520.5 306.7,1534.0 307.2,1542.0C307.7,1550.0 308.0,1552.7 308.2,1558.0C308.4,1563.3 308.5,1569.5 308.4,1574.0C308.3,1578.5 308.0,1581.0 307.5,1585.0C307.0,1589.0 305.7,1593.8 305.2,1598.0C304.7,1602.2 304.5,1606.2 304.5,1610.0C304.5,1613.8 303.9,1618.2 305.2,1621.0C306.4,1623.8 309.7,1625.6 312.0,1627.0C314.3,1628.4 316.3,1629.0 319.0,1629.5C321.7,1630.0 325.0,1630.1 328.0,1630.0C331.0,1629.9 333.6,1629.3 336.8,1629.0C340.0,1628.7 343.7,1628.7 347.0,1628.0C350.3,1627.3 353.8,1626.0 356.6,1625.0C359.4,1624.0 361.7,1623.3 364.0,1622.0C366.3,1620.7 369.7,1619.2 370.4,1617.0C371.1,1614.8 370.5,1612.2 368.4,1609.0C366.3,1605.8 361.6,1601.8 358.0,1598.0C354.4,1594.2 348.9,1590.3 346.7,1586.0C344.5,1581.7 345.3,1576.7 345.0,1572.0C344.7,1567.3 344.6,1562.5 344.7,1558.0C344.8,1553.5 344.8,1549.7 345.5,1545.0C346.2,1540.3 347.1,1536.2 348.7,1530.0C350.3,1523.8 353.0,1515.2 355.0,1508.0C357.0,1500.8 358.3,1494.5 360.5,1487.0C362.7,1479.5 366.0,1470.3 368.0,1463.0C370.0,1455.7 371.3,1449.3 372.4,1443.0C373.5,1436.7 374.0,1430.8 374.5,1425.0C375.0,1419.2 375.4,1413.8 375.5,1408.0C375.6,1402.2 375.5,1396.0 375.0,1390.0C374.5,1384.0 373.4,1377.0 372.4,1372.0C371.4,1367.0 370.6,1364.2 369.0,1360.0C367.4,1355.8 363.0,1352.0 362.5,1347.0C362.0,1342.0 364.7,1336.3 366.0,1330.0C367.3,1323.7 368.8,1316.8 370.4,1309.0C372.0,1301.2 373.9,1291.5 375.5,1283.0C377.1,1274.5 378.6,1267.2 380.3,1258.0C382.1,1248.8 384.4,1237.8 386.0,1228.0C387.6,1218.2 388.9,1208.7 390.1,1199.0C391.4,1189.3 392.6,1179.8 393.5,1170.0C394.4,1160.2 395.1,1150.0 395.3,1140.0C395.6,1130.0 395.4,1120.0 395.0,1110.0C394.6,1100.0 394.0,1090.8 393.0,1080.0C392.0,1069.2 390.5,1056.7 389.0,1045.0C387.5,1033.3 385.3,1021.7 384.0,1010.0C382.7,998.3 382.0,985.8 381.0,975.0C380.0,964.2 377.2,945.8 378.0,945.0C378.8,944.2 383.7,961.7 386.0,970.0C388.3,978.3 389.7,985.8 392.0,995.0C394.3,1004.2 397.2,1015.8 400.0,1025.0C402.8,1034.2 405.7,1042.8 408.5,1050.0C411.3,1057.2 414.2,1062.3 417.0,1068.0C419.8,1073.7 423.0,1079.3 425.5,1084.0C428.0,1088.7 430.2,1092.0 432.0,1096.0C433.8,1100.0 436.1,1104.0 436.5,1108.0C436.9,1112.0 434.2,1113.2 434.5,1120.0C434.8,1126.8 437.2,1142.0 438.5,1149.0C439.8,1156.0 440.5,1156.8 442.0,1162.0C443.5,1167.2 445.5,1172.8 447.5,1180.0C449.5,1187.2 451.5,1198.7 454.0,1205.0C456.5,1211.3 459.8,1215.2 462.5,1218.0C465.2,1220.8 467.5,1220.8 470.0,1221.5C472.5,1222.2 475.0,1223.1 477.5,1222.5C480.0,1221.9 482.8,1220.2 485.0,1218.0C487.2,1215.8 489.2,1212.8 490.5,1209.0C491.8,1205.2 492.3,1199.8 493.0,1195.0C493.7,1190.2 494.2,1184.2 494.5,1180.0C494.8,1175.8 494.8,1173.7 494.5,1170.0C494.2,1166.3 492.1,1159.8 493.0,1158.0C493.9,1156.2 497.7,1158.8 500.0,1159.5C502.3,1160.2 504.7,1161.8 507.0,1162.0C509.3,1162.2 514.2,1163.0 514.0,1161.0C513.8,1159.0 509.2,1154.7 506.0,1150.0C502.8,1145.3 498.8,1139.2 495.0,1133.0C491.2,1126.8 487.0,1118.8 483.0,1113.0C479.0,1107.2 473.3,1101.8 471.0,1098.0C468.7,1094.2 469.8,1096.3 469.0,1090.0C468.2,1083.7 467.3,1071.0 466.0,1060.0C464.7,1049.0 462.7,1034.0 461.0,1024.0C459.3,1014.0 458.0,1007.8 456.0,1000.0C454.0,992.2 451.2,982.8 449.0,977.0C446.8,971.2 445.2,969.2 443.0,965.0C440.8,960.8 436.6,957.8 435.5,952.0C434.4,946.2 436.3,936.2 436.4,930.0C436.5,923.8 436.4,920.5 436.0,915.0C435.6,909.5 434.2,901.8 434.0,897.0C433.8,892.2 434.3,890.5 434.5,886.0C434.7,881.5 435.0,876.7 435.0,870.0C435.0,863.3 434.9,853.5 434.5,846.0C434.1,838.5 433.6,831.7 432.5,825.0C431.4,818.3 429.9,811.8 428.0,806.0C426.1,800.2 423.7,794.8 421.0,790.0C418.3,785.2 415.5,780.7 412.0,777.0C408.5,773.3 403.7,770.2 400.0,768.0C396.3,765.8 394.3,765.5 390.0,764.0C385.7,762.5 379.3,761.2 374.0,759.0C368.7,756.8 363.3,753.7 358.0,751.0C352.7,748.3 346.7,745.7 342.0,743.0C337.3,740.3 333.2,737.5 330.0,735.0C326.8,732.5 323.8,730.5 322.5,728.0C321.2,725.5 321.9,723.0 322.0,720.0C322.1,717.0 322.3,713.0 323.0,710.0C323.7,707.0 324.8,705.1 326.0,702.0C327.2,698.9 329.0,695.2 330.5,691.5C332.0,687.8 333.7,683.7 335.0,680.0C336.3,676.3 337.5,672.2 338.5,669.5C339.5,666.8 340.2,665.8 341.0,664.0C341.8,662.2 342.7,660.9 343.2,659.0C343.7,657.1 344.2,654.5 344.0,652.5C343.8,650.5 342.4,648.9 342.0,647.0C341.6,645.1 341.8,643.3 341.7,641.0C341.6,638.7 341.7,636.3 341.5,633.0C341.3,629.7 341.0,624.8 340.5,621.0C340.0,617.2 339.3,613.7 338.5,610.0C337.7,606.3 336.8,602.5 335.5,599.0C334.2,595.5 332.4,592.1 330.5,589.0C328.6,585.9 326.5,583.0 324.0,580.5C321.5,578.0 318.8,575.9 315.5,574.0C312.2,572.1 308.2,570.1 304.0,569.0C299.8,567.9 294.7,567.2 290.0,567.2Z" fill="#054f63"/></g>
<g clip-path="url(#bodyclip)">
<rect x="290" y="550" width="300" height="149.5" fill="#f45e5a"/>
<rect x="290" y="699.5" width="300" height="140.5" fill="#dd5d5c"/>
<rect x="290" y="840" width="300" height="82.5" fill="#a9585c"/>
<rect x="290" y="922.5" width="300" height="175.5" fill="#664f5c"/>
<rect x="290" y="1098" width="300" height="197" fill="#344e5d"/>
<rect x="290" y="1295" width="300" height="130" fill="#008ba1"/>
<rect x="290" y="1425" width="300" height="220" fill="#00b0c9"/>
<polygon points="390,1020 560,1020 560,1245 412,1245 412,1080 398,1050" fill="#f45e5a"/>
<rect x="290" y="697.5" width="300" height="2.5" fill="#c65a5a" opacity="0.8"/>
<rect x="290" y="921.5" width="300" height="3" fill="#4f4b5a" opacity="0.9"/>
</g>
<rect x="374.7" y="635.25" width="169.90000000000003" height="3.5" fill="#6d9199" filter="url(#sh2)"/>
<rect x="469.5" y="814.25" width="75.10000000000002" height="3.5" fill="#6d9199" filter="url(#sh2)"/>
<rect x="491.3" y="993.25" width="53.30000000000001" height="3.5" fill="#6d9199" filter="url(#sh2)"/>
<rect x="428" y="1173.25" width="116.60000000000002" height="3.5" fill="#6d9199" filter="url(#sh2)"/>
<rect x="407" y="1351.75" width="137.60000000000002" height="3.5" fill="#6d9199" filter="url(#sh2)"/>
<rect x="390" y="1530.85" width="154.60000000000002" height="3.5" fill="#6d9199" filter="url(#sh2)"/>
<circle cx="647" cy="636" r="66" fill="#f25f5c" filter="url(#sh2)"/>
<text x="618.72" y="659.8" font-size="66.5" fill="#ffffff" font-weight="bold" textLength="57.20" lengthAdjust="spacingAndGlyphs" stroke="#ffffff" stroke-width="1.4">A</text>
<circle cx="647" cy="815.6" r="66" fill="#e04f51" filter="url(#sh2)"/>
<text x="621.92" y="839.0" font-size="66.5" fill="#ffffff" font-weight="bold" textLength="51.43" lengthAdjust="spacingAndGlyphs" stroke="#ffffff" stroke-width="1.4">B</text>
<circle cx="647" cy="994.5" r="66" fill="#c83b3f" filter="url(#sh2)"/>
<text x="619.87" y="1016.8" font-size="66.5" fill="#ffffff" font-weight="bold" textLength="50.15" lengthAdjust="spacingAndGlyphs" stroke="#ffffff" stroke-width="1.4">C</text>
<circle cx="647" cy="1173.5" r="66" fill="#054f63" filter="url(#sh2)"/>
<text x="621.31" y="1193.7" font-size="66.5" fill="#ffffff" font-weight="bold" textLength="56.35" lengthAdjust="spacingAndGlyphs" stroke="#ffffff" stroke-width="1.4">D</text>
<circle cx="647" cy="1352.6" r="66" fill="#0099ae" filter="url(#sh2)"/>
<text x="623.40" y="1373.3" font-size="66.5" fill="#ffffff" font-weight="bold" textLength="42.14" lengthAdjust="spacingAndGlyphs" stroke="#ffffff" stroke-width="1.4">E</text>
<circle cx="647" cy="1531.6" r="66" fill="#00aec8" filter="url(#sh2)"/>
<text x="623.08" y="1548.3" font-size="66.5" fill="#ffffff" font-weight="bold" textLength="41.82" lengthAdjust="spacingAndGlyphs" stroke="#ffffff" stroke-width="1.4">F</text>
<text x="743.20" y="654.6" font-size="52" fill="#878a8e" font-weight="bold" textLength="364.08" lengthAdjust="spacingAndGlyphs" >Chemotherapy</text>
<text x="750.17" y="831.6" font-size="52" fill="#878a8e" font-weight="bold" textLength="311.05" lengthAdjust="spacingAndGlyphs" >Hyper-CVAD</text>
<text x="748.20" y="1016.7" font-size="52" fill="#878a8e" font-weight="bold" textLength="433.89" lengthAdjust="spacingAndGlyphs" >Targeted Therapy</text>
<text x="752.98" y="1188.6" font-size="52" fill="#878a8e" font-weight="bold" textLength="457.07" lengthAdjust="spacingAndGlyphs" >Radiation Therapy</text>
<text x="753.96" y="1346.3" font-size="52" fill="#878a8e" font-weight="bold" textLength="241.40" lengthAdjust="spacingAndGlyphs" >Stem Cell</text>
<text x="754.99" y="1407.9" font-size="52" fill="#878a8e" font-weight="bold" textLength="379.93" lengthAdjust="spacingAndGlyphs" >transplantation</text>
<text x="755.98" y="1548.6" font-size="52" fill="#878a8e" font-weight="bold" textLength="242.32" lengthAdjust="spacingAndGlyphs" >Oncaspar</text>
<rect x="1242.2" y="458" width="3.2" height="1234" fill="#828282"/>
<rect x="2522.8" y="458" width="3.2" height="1234" fill="#828282"/>
<rect x="1274.3" y="1139.6" width="1227.4" height="3.5" fill="#828282"/>
<text x="1306.76" y="502.5" font-size="62.5" fill="#063f51" font-weight="bold" textLength="289.35" lengthAdjust="spacingAndGlyphs" >By Region</text>
<rect x="1885" y="524" width="38" height="37" fill="#02aec8"/>
<rect x="2204" y="524" width="38" height="37" fill="#f25e5b"/>
<text x="1973.98" y="557.3" font-size="51.5" fill="#5e5f61" font-weight="bold" textLength="104.46" lengthAdjust="spacingAndGlyphs" >2025</text>
<text x="2296.88" y="557.3" font-size="51.5" fill="#5e5f61" font-weight="bold" textLength="104.15" lengthAdjust="spacingAndGlyphs" >2032</text>
<rect x="1399" y="668" width="3" height="334" fill="#2a6676"/>
<rect x="1399" y="999.2" width="1036" height="3" fill="#2a6676"/>
<rect x="1386.5" y="668.0" width="14" height="3" fill="#2a6676"/>
<text x="1355" y="678.8" font-size="25.5" fill="#111111" font-weight="bold" text-anchor="end" textLength="40" lengthAdjust="spacingAndGlyphs" >800</text>
<rect x="1386.5" y="709.5" width="14" height="3" fill="#2a6676"/>
<text x="1355" y="720.3" font-size="25.5" fill="#111111" font-weight="bold" text-anchor="end" textLength="40" lengthAdjust="spacingAndGlyphs" >700</text>
<rect x="1386.5" y="750.5" width="14" height="3" fill="#2a6676"/>
<text x="1355" y="761.3" font-size="25.5" fill="#111111" font-weight="bold" text-anchor="end" textLength="40" lengthAdjust="spacingAndGlyphs" >600</text>
<rect x="1386.5" y="791.5" width="14" height="3" fill="#2a6676"/>
<text x="1355" y="802.3" font-size="25.5" fill="#111111" font-weight="bold" text-anchor="end" textLength="40" lengthAdjust="spacingAndGlyphs" >500</text>
<rect x="1386.5" y="832.5" width="14" height="3" fill="#2a6676"/>
<text x="1355" y="843.3" font-size="25.5" fill="#111111" font-weight="bold" text-anchor="end" textLength="40" lengthAdjust="spacingAndGlyphs" >400</text>
<rect x="1386.5" y="873.5" width="14" height="3" fill="#2a6676"/>
<text x="1355" y="884.3" font-size="25.5" fill="#111111" font-weight="bold" text-anchor="end" textLength="40" lengthAdjust="spacingAndGlyphs" >300</text>
<rect x="1386.5" y="914.5" width="14" height="3" fill="#2a6676"/>
<text x="1355" y="925.3" font-size="25.5" fill="#111111" font-weight="bold" text-anchor="end" textLength="40" lengthAdjust="spacingAndGlyphs" >200</text>
<rect x="1386.5" y="955.5" width="14" height="3" fill="#2a6676"/>
<text x="1355" y="966.3" font-size="25.5" fill="#111111" font-weight="bold" text-anchor="end" textLength="40" lengthAdjust="spacingAndGlyphs" >100</text>
<g filter="url(#shB)">
<rect x="1453.2" y="872" width="57.5" height="105" fill="#02aec8"/>
<rect x="1553.1" y="824.8" width="57.5" height="152.20000000000005" fill="#f25e5b"/>
<rect x="1654.5" y="730" width="57.5" height="247" fill="#02aec8"/>
<rect x="1756.5" y="669.5" width="57.5" height="307.5" fill="#f25e5b"/>
<rect x="1858" y="854" width="57.5" height="123" fill="#02aec8"/>
<rect x="1959" y="802.8" width="57.5" height="174.20000000000005" fill="#f25e5b"/>
<rect x="2060.4" y="781.3" width="57.5" height="195.70000000000005" fill="#02aec8"/>
<rect x="2161.9" y="711" width="57.5" height="266" fill="#f25e5b"/>
<rect x="2262.8" y="890.4" width="57.5" height="86.60000000000002" fill="#02aec8"/>
<rect x="2360.2" y="888.9" width="57.5" height="88.10000000000002" fill="#f25e5b"/>
</g>
<rect x="1453.2" y="932.4" width="57.5" height="44.6" fill="#178fa0"/>
<rect x="1553.1" y="932.4" width="57.5" height="44.6" fill="#bf5555"/>
<rect x="1654.5" y="932.4" width="57.5" height="44.6" fill="#178fa0"/>
<rect x="1756.5" y="932.4" width="57.5" height="44.6" fill="#bf5555"/>
<rect x="1858" y="932.4" width="57.5" height="44.6" fill="#178fa0"/>
<rect x="1959" y="932.4" width="57.5" height="44.6" fill="#bf5555"/>
<rect x="2060.4" y="932.4" width="57.5" height="44.6" fill="#178fa0"/>
<rect x="2161.9" y="932.4" width="57.5" height="44.6" fill="#bf5555"/>
<rect x="2262.8" y="932.4" width="57.5" height="44.6" fill="#178fa0"/>
<rect x="2360.2" y="932.4" width="57.5" height="44.6" fill="#bf5555"/>
<text x="1539.2" y="1055.4" font-size="25.5" fill="#8b8b8b" font-weight="bold" text-anchor="middle" textLength="82" lengthAdjust="spacingAndGlyphs" >Europe</text>
<text x="1733" y="1055.4" font-size="25.5" fill="#8b8b8b" font-weight="bold" text-anchor="middle" textLength="165.6" lengthAdjust="spacingAndGlyphs" >North America</text>
<text x="1946" y="1055.4" font-size="25.5" fill="#8b8b8b" font-weight="bold" text-anchor="middle" textLength="158.8" lengthAdjust="spacingAndGlyphs" >Latin America</text>
<text x="2153" y="1055.4" font-size="25.5" fill="#8b8b8b" font-weight="bold" text-anchor="middle" textLength="135.8" lengthAdjust="spacingAndGlyphs" >Asia Pacific</text>
<text x="2343" y="1055.4" font-size="25.5" fill="#8b8b8b" font-weight="bold" text-anchor="middle" textLength="52.8" lengthAdjust="spacingAndGlyphs" >MEA</text>
<text x="1307.13" y="1227.2" font-size="62" fill="#063f51" font-weight="bold" textLength="222.81" lengthAdjust="spacingAndGlyphs" >By Type</text>
<rect x="1730.5" y="1207.5" width="29" height="29" fill="#053f52"/>
<rect x="2023.2" y="1207.5" width="29" height="29" fill="#f25e5b"/>
<text x="1795.87" y="1240.3" font-size="56" fill="#053f52" font-weight="bold" textLength="114.28" lengthAdjust="spacingAndGlyphs" >2025</text>
<text x="2096.17" y="1240.3" font-size="56" fill="#053f52" font-weight="bold" textLength="114.20" lengthAdjust="spacingAndGlyphs" >2032</text>
<g filter="url(#sh2)">
<rect x="1295.5" y="1350.8" width="188.00000000000006" height="20" fill="#053f52"/>
<rect x="1483.2" y="1350.8" width="141.69999999999987" height="20" fill="#02aec8"/>
</g>
<g filter="url(#sh2)">
<rect x="1295.5" y="1385.1" width="279.3999999999999" height="20" fill="#f25e5b"/>
<rect x="1574.6" y="1385.1" width="100.70000000000009" height="20" fill="#c63b3e"/>
</g>
<g filter="url(#sh2)">
<rect x="1295.5" y="1460.3" width="277.8999999999999" height="20" fill="#053f52"/>
<rect x="1573.1" y="1460.3" width="102.20000000000009" height="20" fill="#02aec8"/>
</g>
<g filter="url(#sh2)">
<rect x="1295.5" y="1495.2" width="37.20000000000009" height="20" fill="#f25e5b"/>
<rect x="1332.4" y="1495.2" width="173.89999999999992" height="20" fill="#c63b3e"/>
</g>
<g filter="url(#sh2)">
<rect x="1295.5" y="1570.4" width="188.00000000000006" height="20" fill="#053f52"/>
<rect x="1483.2" y="1570.4" width="147.19999999999987" height="20" fill="#02aec8"/>
</g>
<g filter="url(#sh2)">
<rect x="1295.5" y="1604.7" width="124.00000000000004" height="20" fill="#f25e5b"/>
<rect x="1419.2" y="1604.7" width="155.69999999999987" height="20" fill="#c63b3e"/>
</g>
<g filter="url(#sh2)">
<rect x="1964.2" y="1353.3" width="217.29999999999978" height="20" fill="#053f52"/>
<rect x="2181.2" y="1353.3" width="149.1000000000002" height="20" fill="#02aec8"/>
</g>
<g filter="url(#sh2)">
<rect x="1964.2" y="1386.7" width="37.09999999999995" height="20" fill="#f25e5b"/>
<rect x="2001" y="1386.7" width="215.8" height="20" fill="#c63b3e"/>
</g>
<g filter="url(#sh2)">
<rect x="1964.2" y="1467.4" width="186.09999999999997" height="20" fill="#053f52"/>
<rect x="2150" y="1467.4" width="57.3" height="20" fill="#02aec8"/>
</g>
<g filter="url(#sh2)">
<rect x="1964.2" y="1500.2" width="123.90000000000013" height="20" fill="#f25e5b"/>
<rect x="2087.8" y="1500.2" width="63.499999999999815" height="20" fill="#c63b3e"/>
</g>
<text x="1694.2" y="1368.5" font-size="29" fill="#0c3a4a" font-weight="bold" text-anchor="start" textLength="170.6" lengthAdjust="spacingAndGlyphs" >Philadelphia</text>
<text x="1694.2" y="1402.8" font-size="29" fill="#0c3a4a" font-weight="bold" text-anchor="start" textLength="186.7" lengthAdjust="spacingAndGlyphs" >Chromosome</text>
<text x="1700.3" y="1479.5" font-size="29" fill="#0c3a4a" font-weight="bold" text-anchor="start" textLength="155.4" lengthAdjust="spacingAndGlyphs" >Positive Ph</text>
<text x="1700.3" y="1513.8" font-size="29" fill="#0c3a4a" font-weight="bold" text-anchor="start" textLength="73.2" lengthAdjust="spacingAndGlyphs" >(Ph+)</text>
<text x="1657.9" y="1584.5" font-size="29" fill="#0c3a4a" font-weight="bold" text-anchor="start" textLength="166" lengthAdjust="spacingAndGlyphs" >Negative Ph</text>
<text x="1657.9" y="1618.8" font-size="29" fill="#0c3a4a" font-weight="bold" text-anchor="start" textLength="89.3" lengthAdjust="spacingAndGlyphs" >( Ph - )</text>
<text x="2364.4" y="1371.5" font-size="29" fill="#0c3a4a" font-weight="bold" text-anchor="start" textLength="78.2" lengthAdjust="spacingAndGlyphs" >T Cell</text>
<text x="2364.4" y="1405.3" font-size="29" fill="#0c3a4a" font-weight="bold" text-anchor="start" textLength="54" lengthAdjust="spacingAndGlyphs" >ALL</text>
<text x="2238.3" y="1491.1" font-size="29" fill="#0c3a4a" font-weight="bold" text-anchor="start" textLength="229.1" lengthAdjust="spacingAndGlyphs" >Precursor B-Cell</text>
<text x="2238.3" y="1525" font-size="29" fill="#0c3a4a" font-weight="bold" text-anchor="start" textLength="55" lengthAdjust="spacingAndGlyphs" >ALL</text>
<g filter="url(#sh)">
<path fill-rule="evenodd" fill="#f25e5b" d="M2717,640 L2717,622 Q2717,609 2735,609 L2788,609 Q2804,609 2804,622 L2804,643 C2818,662 2832,695 2832,716 C2832,737 2826,752 2803,771 C2840,792 2880,808 2910,820 L2910,882 C2875,872 2840,860 2816,847 C2795,836 2772,826 2756,815 C2740,828 2728,838 2714,845 C2690,858 2650,872 2611,882 L2611,820 C2650,806 2690,790 2724,771 C2700,752 2688,735 2689.5,716 C2690,695 2702,665 2717,640 Z M2717,663 Q2760,652 2804,663 L2765,737 Z"/>
</g>
<text x="2966.66" y="712.7" font-size="39.5" fill="#949494" font-weight="bold" textLength="454.23" lengthAdjust="spacingAndGlyphs" >ALL is a type of Cancer</text>
<text x="2967.70" y="762.3" font-size="39.5" fill="#949494" font-weight="bold" textLength="437.10" lengthAdjust="spacingAndGlyphs" >that is developed from</text>
<text x="2964.57" y="810.6" font-size="39.5" fill="#949494" font-weight="bold" textLength="460.66" lengthAdjust="spacingAndGlyphs" >immature lymphocytes.</text>
<text x="2591.87" y="976.2" font-size="39.5" fill="#949494" font-weight="bold" textLength="807.78" lengthAdjust="spacingAndGlyphs" >ALL usually develops in the bone marrow</text>
<text x="2591.86" y="1025.4" font-size="39.5" fill="#949494" font-weight="bold" textLength="838.94" lengthAdjust="spacingAndGlyphs" >and it quickly invades other body parts like</text>
<text x="2592.90" y="1074.1" font-size="39.5" fill="#949494" font-weight="bold" textLength="852.78" lengthAdjust="spacingAndGlyphs" >the spleen, lymph nodes, liver, central nerv-</text>
<text x="2590.82" y="1123.3" font-size="39.5" fill="#949494" font-weight="bold" textLength="517.99" lengthAdjust="spacingAndGlyphs" >ous system and the blood.</text>
<rect x="2560.7" y="1186" width="902.7" height="3.5" fill="#828282"/>
<text x="2587.49" y="1268.5" font-size="48.5" fill="#9a9a9a" font-weight="bold" textLength="282.49" lengthAdjust="spacingAndGlyphs" >Key Players:</text>
<text x="2639.12" y="1386.5" font-size="66" fill="#1c3d7e" font-weight="normal" textLength="207.53" lengthAdjust="spacingAndGlyphs" >erytech</text>
<g fill="none" stroke-linejoin="round" stroke-linecap="round"><g clip-path="url(#ery)"><path d="M2872,1342 L2909,1347.5 L2860,1356.5 L2914,1369.5 L2864,1381 L2900,1390" stroke="#d3201c" stroke-width="9"/></g><path d="M2878,1344 L2904,1348" stroke="#a80f10" stroke-width="4"/><path d="M2870,1358 L2905,1367.5" stroke="#b8120f" stroke-width="3.5"/></g>
<path d="M3008.5,1330 L3013.7,1330 L3012.2,1373 L3010.1,1373 Z" fill="#0b56a6"/>
<path d="M2991.7,1337 C3001,1346 3003,1352 2996,1362 C2988,1372 2987,1380 2994,1385 C2998,1388 3003,1389 3006,1388.5" fill="none" stroke="#e5462a" stroke-width="5.5" stroke-linecap="round"/>
<path d="M3024.3,1357.3 C3034,1363 3038,1371 3034.5,1379 C3031,1386 3023,1389 3014,1388.5" fill="none" stroke="#ee9a22" stroke-width="5" stroke-linecap="round"/>
<text x="3068.32" y="1387.5" font-size="53" fill="#1a5daa" font-weight="normal" textLength="279.06" lengthAdjust="spacingAndGlyphs" style="font-family:Liberation Serif;" >NOVARTIS</text>
<ellipse cx="2633" cy="1456.2" rx="7" ry="5.5" fill="#1a8f8a"/>
<ellipse cx="2654.5" cy="1466.3" rx="7" ry="5.5" fill="#8a8a8a"/>
<ellipse cx="2670" cy="1480.7" rx="7" ry="5.5" fill="#8a8a8a"/>
<ellipse cx="2670" cy="1504" rx="7" ry="5.5" fill="#8a8a8a"/>
<ellipse cx="2685.5" cy="1466.3" rx="7" ry="5.5" fill="#8a8a8a"/>
<ellipse cx="2706" cy="1456.2" rx="7" ry="5.5" fill="#8a8a8a"/>
<text x="2695.99" y="1533" font-size="65" fill="#1a9290" font-weight="normal" textLength="233.17" lengthAdjust="spacingAndGlyphs" >Genmab</text>
<circle cx="3011.4" cy="1507.8" r="28" fill="#1c4b9c"/>
<path d="M2990,1495 C3000,1485 3025,1485 3035,1498 C3020,1492 3000,1494 2990,1505 Z M2986,1515 C3000,1508 3025,1508 3038,1518 C3025,1515 3000,1518 2988,1525 Z" fill="#fdeadd"/>
<text x="3052.9" y="1521.4" font-size="46" fill="#1c3d8f" font-weight="bold" text-anchor="start" textLength="255.3" lengthAdjust="spacingAndGlyphs" >SPECTRUM</text>
<text x="3168.5" y="1542" font-size="9" fill="#aab6da" font-weight="normal" text-anchor="start" textLength="140" lengthAdjust="spacingAndGlyphs" >PHARMACEUTICALS</text>
<defs><linearGradient id="pfg" x1="0" y1="0" x2="1" y2="0.3"><stop offset="0" stop-color="#00a8e6"/><stop offset="1" stop-color="#0058a3"/></linearGradient></defs>
<ellipse cx="2706.8" cy="1633.6" rx="83" ry="46" fill="url(#pfg)" transform="rotate(-10 2706.8 1633.6)"/>
<text x="2639" y="1652" font-size="54" fill="#ffffff" font-weight="bold" text-anchor="start" textLength="146" lengthAdjust="spacingAndGlyphs" font-style="italic">Pfizer</text>
<g stroke="#6aa6cf" stroke-width="2" fill="none"><polygon points="2833.6,1634.5 2854.2,1599.5 2895.2,1599.5 2915.8,1634.5 2895.2,1669.5 2854.2,1669.5" fill="#eef5f8"/><path d="M2833.6,1634.5 L2915.8,1634.5 M2854.2,1599.5 L2895.2,1669.5 M2895.2,1599.5 L2854.2,1669.5"/><path d="M2874.7,1634.5 L2844,1617 M2874.7,1634.5 L2905.4,1617 M2874.7,1634.5 L2844,1652 M2874.7,1634.5 L2905.4,1652 M2874.7,1634.5 L2874.7,1599.5 M2874.7,1634.5 L2874.7,1669.5" stroke-width="1.2"/><path d="M2854.2,1599.5 L2874.7,1617 L2895.2,1599.5 M2915.8,1634.5 L2890,1626 L2905.4,1652 M2895.2,1669.5 L2874.7,1652 L2854.2,1669.5 M2833.6,1634.5 L2859,1643 L2844,1617" stroke-width="1.3"/><circle cx="2874.7" cy="1634.5" r="5"/></g>
<text x="2938.85" y="1652.3" font-size="57" fill="#1a5f9e" font-weight="normal" textLength="459.27" lengthAdjust="spacingAndGlyphs" style="font-family:Liberation Serif;" >Bristol-Myers Squibb</text>
<rect x="0" y="1736" width="3508" height="9" fill="#02aec8"/>
<text x="130.40" y="1839.3" font-size="70" fill="#5f5f61" font-weight="bold" textLength="921.85" lengthAdjust="spacingAndGlyphs" >www.futurewiseresearch.com</text>
<text x="2970" y="1836" font-size="79" fill="#1fbac9" stroke="#1fbac9" stroke-width="2.4" stroke-linejoin="round" font-weight="normal" textLength="376" lengthAdjust="spacingAndGlyphs">FutureWise</text>
<polygon points="3333.1,1776.6 3378.4,1762.5 3363.8,1807.3" fill="#00e0d2"/>
<polygon points="3333.1,1776.6 3378.4,1762.5 3355,1783" fill="#00f5e6"/>
<polyline points="2981.4,1854.5 3315,1854.5 3322,1862 3327,1843 3333,1867 3339,1854.5 3361.4,1854.5" fill="none" stroke="#c8c8cc" stroke-width="2.5"/>
<rect x="2954.8" y="1833.3" width="13.6" height="40" fill="#00d8d0"/>
<rect x="2941.3" y="1847" width="40" height="13.4" fill="#00d8d0"/>
<polyline points="2943,1854 2950,1854 2954,1849 2958,1859 2962,1854 2980,1854" fill="none" stroke="#ffffff" stroke-width="1.5"/>
<text transform="translate(3005,1880.5) scale(0.72,1)" x="0" y="0" font-size="20" fill="#1fbac9" textLength="441" lengthAdjust="spacing">Healthcare Research &amp; Reports</text>
</svg>
</body></html>
